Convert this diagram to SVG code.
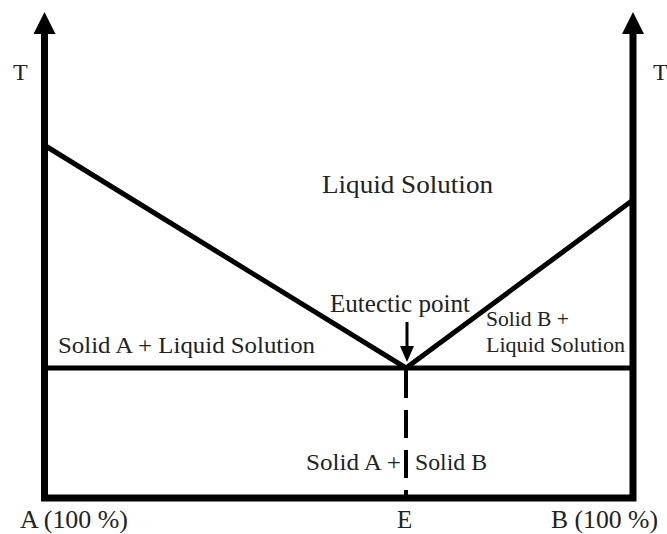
<svg xmlns="http://www.w3.org/2000/svg" width="667" height="534" viewBox="0 0 667 534">
<style>
text{font-family:"Liberation Serif","Times New Roman",serif;fill:#222;}
.ax{stroke:#000;stroke-width:7;fill:none;}
.ln{stroke:#000;stroke-width:5;fill:none;}
</style>
<rect width="667" height="534" fill="#fff"/>
<g id="connectors">
<path class="ax" d="M44.5,30 V498 H633 V30"/>
<polygon points="44.5,12 33.5,34 55.5,34" fill="#000"/>
<polygon points="633,12 622,34 644,34" fill="#000"/>
<path class="ln" d="M44,145 L406,368 L633,200"/>
<path class="ln" d="M44,368 H633"/>
<path stroke="#000" stroke-width="4" fill="none" d="M406,370 V498" stroke-dasharray="28 12"/>
<path stroke="#000" stroke-width="3" d="M407,322 V350"/>
<polygon points="400,346 414,346 407,362" fill="#000"/>
</g>
<g id="labels">
<text x="13" y="80" font-size="24">T</text>
<text x="653" y="80" font-size="24">T</text>
<text x="322" y="193" font-size="26" textLength="171" lengthAdjust="spacingAndGlyphs">Liquid Solution</text>
<text x="330" y="312" font-size="25" textLength="140" lengthAdjust="spacingAndGlyphs">Eutectic point</text>
<text x="58" y="353" font-size="24" textLength="257" lengthAdjust="spacingAndGlyphs">Solid A + Liquid Solution</text>
<text x="486" y="326" font-size="22" textLength="83" lengthAdjust="spacingAndGlyphs">Solid B +</text>
<text x="486" y="352" font-size="22" textLength="139" lengthAdjust="spacingAndGlyphs">Liquid Solution</text>
<text x="306" y="470" font-size="24" textLength="95" lengthAdjust="spacingAndGlyphs">Solid A +</text>
<text x="415" y="470" font-size="24" textLength="72" lengthAdjust="spacingAndGlyphs">Solid B</text>
<text x="20" y="528" font-size="25" textLength="108" lengthAdjust="spacingAndGlyphs">A (100 %)</text>
<text x="397" y="528" font-size="25">E</text>
<text x="551" y="528" font-size="25" textLength="107" lengthAdjust="spacingAndGlyphs">B (100 %)</text>
</g>
</svg>
